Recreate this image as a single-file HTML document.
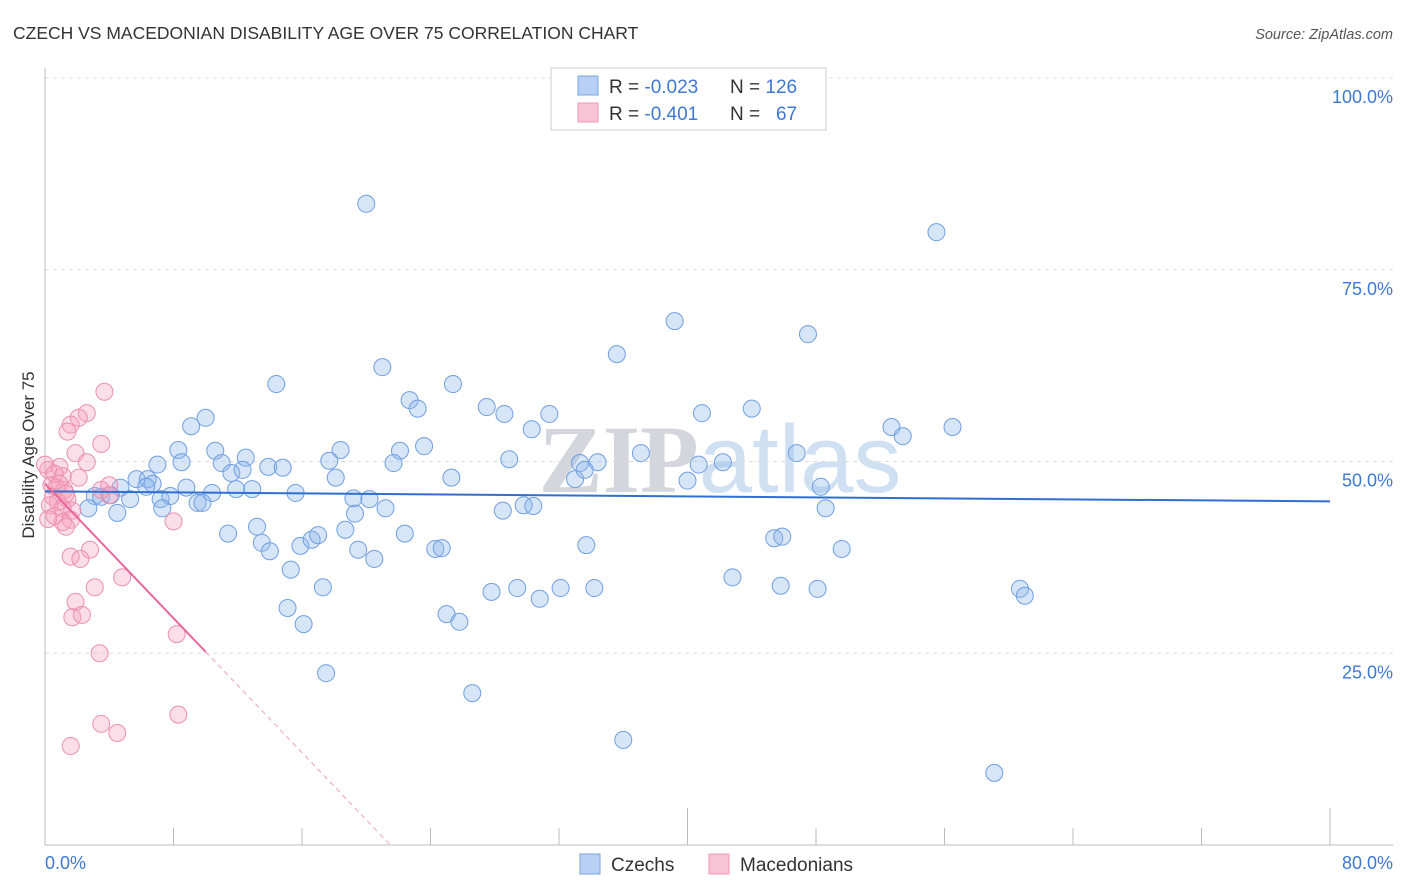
<!DOCTYPE html>
<html><head><meta charset="utf-8"><style>
body{margin:0;background:#fff;font-family:"Liberation Sans",sans-serif;}
#wrap{position:relative;width:1406px;height:892px;overflow:hidden;}
</style></head><body>
<div id="wrap">
<svg id="chart" width="1406" height="892" style="position:absolute;left:0;top:0">
<text x="13" y="39" font-size="17.5" fill="#333">CZECH VS MACEDONIAN DISABILITY AGE OVER 75 CORRELATION CHART</text>
<text x="1393" y="39" font-size="14.5" fill="#555" font-style="italic" text-anchor="end">Source: ZipAtlas.com</text>
<text x="720" y="492" font-size="96" fill="#d9e3ee" text-anchor="middle" font-family="Liberation Serif,serif"><tspan font-weight="bold" fill="#d3d7dd">ZIP</tspan><tspan font-family="Liberation Sans,sans-serif" fill="#cfe0f3">atlas</tspan></text>
<g id="grid"></g><g id="axes"></g><g id="pts"></g><g id="lines"></g>
<text transform="translate(34,455) rotate(-90)" font-size="17" fill="#333" text-anchor="middle">Disability Age Over 75</text>
<text x="45" y="869" font-size="18" fill="#3d78d6">0.0%</text>
<text x="1393" y="869" font-size="18" fill="#3d78d6" text-anchor="end">80.0%</text>
<g>
<rect x="551" y="68" width="275" height="62" fill="#fff" stroke="#ccc"/>
<rect x="578" y="76" width="20" height="19" fill="#b7d0f3" stroke="#7aa6e6"/>
<rect x="578" y="103" width="20" height="19" fill="#f8c3d4" stroke="#ee9ab7"/>
<text x="609" y="93" font-size="19" fill="#333">R = <tspan fill="#3d78d6">-0.023</tspan><tspan x="730">N = </tspan><tspan fill="#3d78d6">126</tspan></text>
<text x="609" y="120" font-size="19" fill="#333">R = <tspan fill="#3d78d6">-0.401</tspan><tspan x="730">N = </tspan><tspan fill="#3d78d6" x="776">67</tspan></text>
</g>
<g>
<rect x="580" y="854" width="20" height="20" fill="#b7d0f3" stroke="#7aa6e6"/>
<text x="611" y="871" font-size="19" fill="#333">Czechs</text>
<rect x="709" y="854" width="20" height="20" fill="#f8c3d4" stroke="#ee9ab7"/>
<text x="740" y="871" font-size="19" fill="#333">Macedonians</text>
</g>
</svg>
</div>
<script>
const czechX=[20.0,55.5,39.2,47.5,35.6,21.0,14.4,25.4,22.7,23.2,27.5,28.6,31.4,40.9,44.0,10.0,9.1,30.3,52.7,53.4,56.5,8.3,10.6,18.4,22.1,23.6,37.1,46.8,7.0,8.5,11.0,12.5,13.9,14.8,17.7,21.7,28.9,33.3,34.4,42.2,40.7,11.6,12.3,5.7,6.4,6.7,18.1,25.3,33.0,33.6,40.0,48.3,4.7,6.3,8.8,10.4,11.9,12.9,15.6,19.2,20.2,3.1,3.5,4.1,5.3,7.2,7.8,9.5,9.8,7.3,4.5,2.7,21.2,19.3,28.5,29.8,30.4,48.6,13.2,11.4,18.7,22.4,13.5,14.0,15.9,16.6,17.0,19.5,20.5,24.3,24.7,33.7,45.4,45.9,49.6,15.3,42.8,17.3,27.8,29.4,32.1,34.2,45.8,48.1,60.7,61.0,30.8,15.1,25.0,25.8,16.1,17.5,26.6,36.0,59.1];
const czechY=[83.6,79.9,68.3,66.6,64.0,62.3,60.1,60.1,58.0,56.9,57.1,56.2,56.2,56.3,56.9,55.7,54.6,54.2,54.5,53.3,54.5,51.5,51.4,51.5,51.4,52.0,51.1,51.1,49.6,49.9,49.8,50.5,49.3,49.2,50.1,49.8,50.3,49.8,49.9,49.9,49.6,48.5,48.9,47.7,47.7,47.1,47.9,47.9,47.7,48.9,47.5,46.7,46.6,46.7,46.6,45.9,46.4,46.4,45.9,45.2,45.1,45.5,45.4,45.6,45.1,45.1,45.5,44.6,44.6,43.9,43.3,43.9,43.9,43.2,43.6,44.3,44.2,43.9,41.5,40.6,41.1,40.6,39.4,38.3,39.0,39.8,40.4,38.5,37.3,38.6,38.7,39.1,40.0,40.2,38.6,35.9,34.9,33.6,33.0,33.5,33.5,33.5,33.8,33.4,33.4,32.5,32.1,30.9,30.1,29.1,28.8,22.4,19.8,13.7,9.4];
const macX=[3.7,2.6,2.1,1.6,1.4,3.5,1.9,2.6,0.9,0.2,1.1,2.1,0.4,0.7,1.2,3.5,4.0,4.0,0.5,0.8,1.4,0.3,1.1,1.7,0.6,1.6,0.2,1.1,1.3,8.0,2.8,1.6,2.2,4.8,3.1,1.9,1.7,2.3,8.2,3.4,8.3,3.5,4.5,1.6,0.0,0.6,0.9,1.3];
const macY=[59.1,56.3,55.7,54.8,53.9,52.3,51.1,49.9,49.3,48.9,48.1,47.9,46.9,46.6,46.3,46.3,46.9,45.6,45.4,44.7,45.1,44.3,43.9,43.6,42.9,42.4,42.5,42.1,41.5,42.2,38.5,37.6,37.3,34.9,33.6,31.7,29.7,30.0,27.5,25.0,17.0,15.8,14.6,12.9,49.6,48.4,47.1,45.8];
const czechTrend=[46.1,44.8];
const macTrend=[47.1,0];
const macSolidEnd=10;
const yTicks=[25,50,75,100];
const yTickLabels=["25.0%","50.0%","75.0%","100.0%"];
const xTicks=[0,8,16,24,32,40,48,56,64,72,80];

const X0=45,X1=1330,Y0=845,Y100=78;
const sx=v=>X0+(X1-X0)*v/80;
const sy=v=>Y0-(Y0-Y100)*v/100;
const NS="http://www.w3.org/2000/svg";
function mk(tag,attrs,parent){const e=document.createElementNS(NS,tag);for(const k in attrs)e.setAttribute(k,attrs[k]);parent.appendChild(e);return e;}
const grid=document.getElementById('grid'),axes=document.getElementById('axes'),pts=document.getElementById('pts'),lines=document.getElementById('lines');
yTicks.forEach((t,i)=>{
 const l=mk('line',{x1:X0,x2:1393,y1:sy(t),y2:sy(t),stroke:'#ddd','stroke-dasharray':'4,4'},grid);
 
 
 const tx=mk('text',{x:1393,y:sy(t)+25,'font-size':18,fill:'#3d78d6','text-anchor':'end'},grid);
 tx.textContent=yTickLabels[i];
 
 
});
const ax=mk('line',{x1:X0,x2:1393,y1:Y0,y2:Y0,stroke:'#bbb'},axes);


const ay=mk('line',{x1:X0,x2:X0,y1:68,y2:Y0,stroke:'#bbb'},axes);


xTicks.forEach((t,i)=>{
 const tall=(t===40||t===80);
 const tk=mk('line',{x1:sx(t),x2:sx(t),y1:tall?808:828,y2:Y0,stroke:'#bbb'},axes);
 
 
});
czechX.forEach((x,i)=>{
 const c=mk('circle',{cx:sx(x),cy:sy(czechY[i]),r:8.5,fill:'rgba(140,180,235,0.35)',stroke:'#6f9fe2','stroke-width':1},pts);
 
 
});
macX.forEach((x,i)=>{
 const c=mk('circle',{cx:sx(x),cy:sy(macY[i]),r:8.5,fill:'rgba(245,160,190,0.35)',stroke:'#ec8fb0','stroke-width':1},pts);
 
 
});
const cl=mk('line',{x1:sx(0),y1:sy(czechTrend[0]),x2:sx(80),y2:sy(czechTrend[1]),stroke:'#2f6fd1','stroke-width':2},lines);


const slope=(macTrend[1]-macTrend[0])/21.5;
const my=x=>macTrend[0]+slope*x;
const ml=mk('line',{x1:sx(0),y1:sy(my(0)),x2:sx(macSolidEnd),y2:sy(my(macSolidEnd)),stroke:'#e8679a','stroke-width':2},lines);


const md=mk('line',{x1:sx(macSolidEnd),y1:sy(my(macSolidEnd)),x2:sx(21.5),y2:sy(my(21.5)),stroke:'#f0a0bd','stroke-width':1,'stroke-dasharray':'5,4'},lines);


</script>
</body></html>
